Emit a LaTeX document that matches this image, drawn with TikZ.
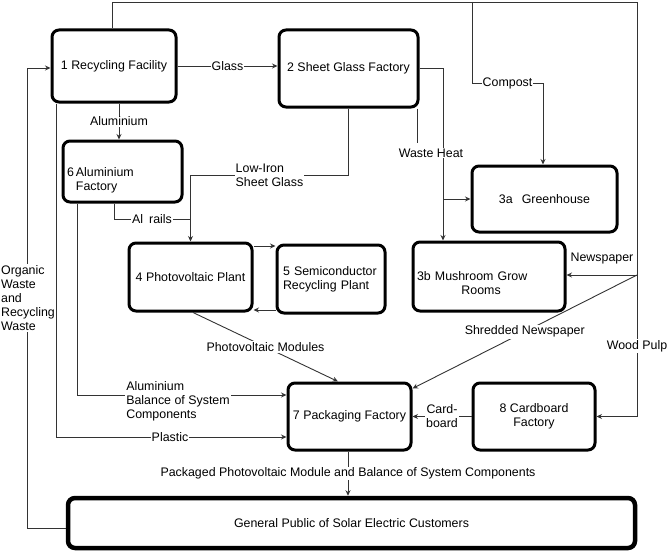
\documentclass[tikz,border=0pt]{standalone}
\usepackage{fontspec}
\setmainfont{Liberation Sans}
\usetikzlibrary{arrows.meta}
\newcommand\dgfont{\fontsize{12.4}{14}\selectfont}
\begin{document}
\begin{tikzpicture}[x=1pt,y=-1pt,
  box/.style={draw, line width=3pt, rounded corners=7pt, inner sep=0pt, font=\dgfont},
  conn/.style={line width=0.9pt, draw=black!80, -{Stealth[length=5.5pt,width=5pt]}},
  plainline/.style={line width=0.9pt, draw=black!80},
  lbl/.style={fill=white, inner sep=1pt, font=\dgfont, align=center}
]
\useasboundingbox (0,0) rectangle (667,551);

% boxes
\node[box, minimum width=124pt, minimum height=72pt] (n1) at (114,66) {1 Recycling Facility};
\node[box, minimum width=139pt, minimum height=77pt] (n2) at (348.5,68.5) {2 Sheet Glass Factory};
\node[box, minimum width=119pt, minimum height=61pt, text width=111pt, inner xsep=4pt, align=left] (n6) at (122.5,171.5)
  {\raisebox{-5pt}[0pt][0pt]{6\,\begin{tabular}[t]{@{}l@{}}Aluminium\\Factory\end{tabular}}};
\node[box, minimum width=145pt, minimum height=66pt] (n3a) at (544.5,199) {3a\hspace{9pt}Greenhouse};
\node[box, minimum width=123pt, minimum height=68pt] (n4) at (190.5,277) {4 Photovoltaic Plant};
\node[box, minimum width=108pt, minimum height=68pt, text width=96pt, inner xsep=6pt, align=left] (n5) at (331,279)
  {5 Semiconductor\\Recycling Plant};
\node[box, minimum width=152pt, minimum height=69pt, text width=144pt, inner xsep=4pt, align=left] (n3b) at (489,276.5)
  {\raisebox{-4pt}[0pt][0pt]{3b \begin{tabular}[t]{@{}c@{}}Mushroom Grow\\Rooms\end{tabular}}};
\node[box, minimum width=123pt, minimum height=67pt] (n7) at (349.5,416.5) {7 Packaging Factory};
\node[box, minimum width=122pt, minimum height=67pt, align=center] (n8) at (534,416.5) {8 Cardboard\\Factory};
\node[box, line width=4.5pt, minimum width=567pt, minimum height=50pt] (gp) at (351.5,523) {General Public of Solar Electric Customers};

% coordinates
\coordinate (t1) at (112,2);
\coordinate (t2) at (637,2);
\coordinate (t3) at (637,416.5);
\coordinate (c1) at (472,2);
\coordinate (c2) at (472,83);
\coordinate (c3) at (543,83);
\coordinate (np) at (637,275);
\coordinate (al) at (119,0);
\coordinate (li) at (190.5,175);
\coordinate (arx) at (114,0);
\coordinate (ar) at (190.5,219);
\coordinate (wh1) at (443,68.5);
\coordinate (wh2) at (443,199);
\coordinate (wh3) at (417,143);
\coordinate (p45a) at (0,246);
\coordinate (p45b) at (0,310);
\coordinate (pvx1) at (193,0);
\coordinate (pvx2) at (338,0);
\coordinate (ab) at (77,395);
\coordinate (pl) at (56,437);
\coordinate (o1) at (27,528);
\coordinate (o2) at (27,68);
\coordinate (pk) at (348,0);

% top loop / wood pulp
\draw[conn] (n1.north -| t1) -- (t1) -- (t2) -- (t3) -- (n8.east |- t3);
\node[lbl] (lwp) at (637,346) {Wood Pulp};
% compost
\draw[conn] (c1) -- (c2) -- (c3) -- (n3a.north -| c3);
\node[lbl] (lcp) at (507.5,83) {Compost};
% newspaper
\draw[conn] (np) -- (n3b.east |- np);
\node[font=\dgfont, inner sep=1pt] (lnp) at (602,259) {Newspaper};
\draw[conn] (np) -- ([yshift=-7pt]n7.north east) node[lbl, pos=0.5] (lsn) {Shredded Newspaper};
% glass
\draw[conn] (n1.east) -- (n1.east -| n2.west) node[lbl, midway] (lgl) {Glass};
% aluminium
\draw[conn] (n1.south -| al) -- (n6.north -| al) node[lbl, midway] (lal) {Aluminium};
% low-iron sheet glass
\draw[conn] (n2.south) |- (li) -- (n4.north);
\node[lbl, align=left] (lli) at (269.5,175) {Low-Iron\\Sheet Glass};
% al rails
\draw[plainline] (n6.south -| arx) |- (ar);
\node[lbl] (lar) at (152,219) {Al\hspace{6pt}rails};
% waste heat
\draw[conn] (n2.east |- wh1) -- (wh1) -- (n3b.north -| wh1);
\draw[conn] (wh2) -- (n3a.west |- wh2);
\draw[plainline] (n2.south -| wh3) -- (wh3);
\node[lbl] (lwh) at (431,153) {Waste Heat};
% 4 <-> 5
\draw[conn] (n4.east |- p45a) -- (n5.west |- p45a);
\draw[conn] (n5.west |- p45b) -- (n4.east |- p45b);
% photovoltaic modules
\draw[conn] (n4.south -| pvx1) -- (n7.north -| pvx2) node[lbl, midway] (lpv) {Photovoltaic Modules};
% aluminium BOS
\draw[conn] (n6.south -| ab) |- (n7.west |- ab);
\node[lbl, align=left] (lab) at (178,401) {Aluminium\\Balance of System\\Components};
% plastic
\draw[conn] (n1.south -| pl) -- (pl) -- (n7.west |- pl);
\node[lbl] (lpl) at (170,437) {Plastic};
% organic waste
\draw[conn] (gp.west |- o1) -- (o1) -- (o2) -- (n1.west |- o2);
\node[lbl, align=left] (low) at (28,298) {Organic\\Waste\\and\\Recycling\\Waste};
% cardboard
\draw[conn] (n8.west) -- (n7.east) node[lbl, midway] (lcb) {Card-\\board};
% packaged
\draw[conn] (n7.south -| pk) -- (gp.north -| pk) node[lbl, midway] (lpk) {Packaged Photovoltaic Module and Balance of System Components};
\end{tikzpicture}
\end{document}
